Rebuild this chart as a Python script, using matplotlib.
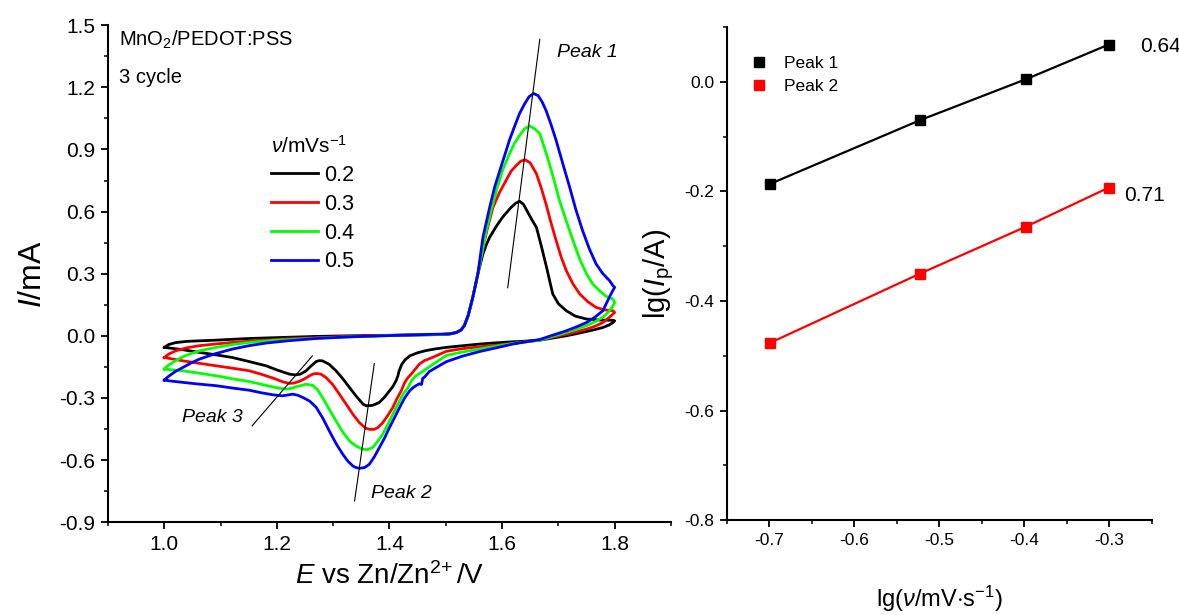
import matplotlib
matplotlib.use("Agg")
import matplotlib.pyplot as plt
from matplotlib.ticker import MultipleLocator

plt.rcParams['font.family'] = ['Liberation Sans', 'DejaVu Sans']
plt.rcParams['mathtext.fontset'] = 'custom'
plt.rcParams['mathtext.rm'] = 'Liberation Sans'
plt.rcParams['mathtext.it'] = 'Liberation Sans:italic'
plt.rcParams['axes.unicode_minus'] = False

# CV loops (E / V vs Zn/Zn2+, I / mA): forward scan 1.0 -> 1.8, then back to 1.0
scan_rates = ['0.2', '0.3', '0.4', '0.5']
colors = ['#000000', '#ff0000', '#00ff00', '#0000ff']

# shared foot of the anodic wave
rise_E = [1.507, 1.519, 1.527, 1.533, 1.540, 1.548, 1.557]
rise_I = [0.009, 0.016, 0.028, 0.049, 0.100, 0.186, 0.299]

E_02 = [1.000, 1.008, 1.020, 1.040, 1.092, 1.151, 1.210, 1.270, 1.329, 1.418, 1.490] + rise_E + [
    1.566, 1.572, 1.578, 1.590, 1.601, 1.616, 1.624, 1.631, 1.638, 1.645, 1.653, 1.661, 1.670,
    1.679, 1.685, 1.690, 1.700, 1.714, 1.730, 1.750, 1.775, 1.797, 1.800,
    1.797, 1.790, 1.779, 1.765, 1.750, 1.732, 1.714, 1.690, 1.667, 1.640, 1.619, 1.590, 1.560,
    1.530, 1.501, 1.480, 1.464, 1.450, 1.436, 1.428, 1.422, 1.417, 1.415, 1.412, 1.406, 1.400,
    1.391, 1.382, 1.370, 1.359, 1.353, 1.341, 1.329, 1.317, 1.305, 1.293, 1.281, 1.275, 1.270,
    1.261, 1.252, 1.242, 1.233, 1.222, 1.200, 1.181, 1.150, 1.121, 1.092, 1.062, 1.030, 1.000]
I_02 = [-0.056, -0.042, -0.033, -0.027, -0.021, -0.013, -0.008, -0.003, 0.000, 0.003, 0.006] + rise_I + [
    0.395, 0.440, 0.476, 0.530, 0.573, 0.620, 0.640, 0.650, 0.635, 0.600, 0.560, 0.524, 0.430,
    0.331, 0.260, 0.202, 0.155, 0.121, 0.095, 0.081, 0.076, 0.075, 0.072,
    0.064, 0.052, 0.040, 0.030, 0.021, 0.010, 0.000, -0.011, -0.021, -0.026, -0.029, -0.034, -0.040,
    -0.048, -0.056, -0.064, -0.072, -0.082, -0.097, -0.115, -0.137, -0.170, -0.193, -0.215, -0.245, -0.266,
    -0.297, -0.322, -0.336, -0.338, -0.330, -0.292, -0.250, -0.207, -0.169, -0.138, -0.121, -0.120, -0.124,
    -0.145, -0.169, -0.185, -0.189, -0.185, -0.165, -0.145, -0.124, -0.105, -0.092, -0.080, -0.066, -0.056]

E_03 = [1.000, 1.008, 1.021, 1.040, 1.062, 1.090, 1.121, 1.160, 1.210, 1.270, 1.329, 1.418, 1.490] + rise_E + [
    1.566, 1.575, 1.584, 1.595, 1.607, 1.616, 1.625, 1.633, 1.641, 1.650, 1.661, 1.670, 1.678,
    1.687, 1.696, 1.705, 1.714, 1.726, 1.738, 1.752, 1.767, 1.782, 1.797, 1.800,
    1.797, 1.790, 1.779, 1.765, 1.750, 1.732, 1.714, 1.690, 1.667, 1.640, 1.619, 1.590, 1.560,
    1.530, 1.501, 1.476, 1.462, 1.453, 1.441, 1.432, 1.427, 1.421, 1.413, 1.406, 1.397, 1.388,
    1.380, 1.373, 1.365, 1.358, 1.346, 1.335, 1.323, 1.311, 1.299, 1.287, 1.278, 1.270, 1.264,
    1.258, 1.249, 1.240, 1.231, 1.222, 1.210, 1.198, 1.175, 1.151, 1.120, 1.092, 1.060, 1.033, 1.000]
I_03 = [-0.105, -0.088, -0.072, -0.058, -0.048, -0.040, -0.032, -0.024, -0.016, -0.009, -0.003, 0.003, 0.006] + rise_I + [
    0.427, 0.530, 0.621, 0.690, 0.750, 0.795, 0.822, 0.843, 0.850, 0.835, 0.783, 0.710, 0.637,
    0.545, 0.460, 0.380, 0.315, 0.250, 0.202, 0.165, 0.137, 0.125, 0.121, 0.113,
    0.105, 0.088, 0.064, 0.046, 0.032, 0.019, 0.008, -0.007, -0.021, -0.030, -0.037, -0.045, -0.053,
    -0.062, -0.075, -0.105, -0.120, -0.137, -0.177, -0.205, -0.226, -0.265, -0.305, -0.346, -0.385, -0.420,
    -0.442, -0.452, -0.452, -0.447, -0.418, -0.379, -0.330, -0.282, -0.235, -0.201, -0.185, -0.182, -0.185,
    -0.193, -0.208, -0.220, -0.228, -0.230, -0.222, -0.209, -0.188, -0.169, -0.156, -0.145, -0.132, -0.121, -0.105]

E_04 = [1.000, 1.006, 1.015, 1.028, 1.044, 1.065, 1.092, 1.120, 1.151, 1.190, 1.240, 1.300, 1.359,
        1.418, 1.490] + rise_E + [
    1.565, 1.572, 1.581, 1.590, 1.601, 1.613, 1.622, 1.631, 1.640, 1.649, 1.658, 1.667, 1.675,
    1.684, 1.693, 1.702, 1.714, 1.726, 1.738, 1.750, 1.761, 1.773, 1.785, 1.797, 1.800,
    1.797, 1.790, 1.779, 1.765, 1.750, 1.732, 1.714, 1.690, 1.667, 1.640, 1.619, 1.590, 1.560,
    1.530, 1.501, 1.476, 1.460, 1.447, 1.439, 1.433, 1.424, 1.415, 1.406, 1.397, 1.388, 1.379,
    1.370, 1.361, 1.353, 1.341, 1.329, 1.317, 1.305, 1.293, 1.281, 1.272, 1.264, 1.252, 1.243,
    1.234, 1.225, 1.216, 1.198, 1.175, 1.151, 1.120, 1.092, 1.060, 1.033, 1.000]
I_04 = [-0.161, -0.145, -0.129, -0.108, -0.089, -0.071, -0.056, -0.043, -0.032, -0.023, -0.016, -0.008, -0.003,
        0.003, 0.006] + rise_I + [
    0.410, 0.508, 0.610, 0.702, 0.800, 0.879, 0.930, 0.967, 1.000, 1.013, 1.000, 0.976, 0.910,
    0.831, 0.745, 0.653, 0.555, 0.460, 0.370, 0.299, 0.250, 0.218, 0.190, 0.178, 0.160,
    0.145, 0.118, 0.089, 0.068, 0.049, 0.032, 0.016, -0.003, -0.021, -0.030, -0.037, -0.050, -0.064,
    -0.078, -0.095, -0.140, -0.170, -0.193, -0.217, -0.250, -0.282, -0.330, -0.378, -0.428, -0.475, -0.510,
    -0.540, -0.550, -0.548, -0.533, -0.508, -0.465, -0.411, -0.355, -0.298, -0.260, -0.240, -0.234, -0.240,
    -0.246, -0.254, -0.258, -0.250, -0.236, -0.221, -0.207, -0.193, -0.180, -0.169, -0.161]

E_05 = [1.000, 1.004, 1.009, 1.020, 1.033, 1.047, 1.062, 1.090, 1.121, 1.150, 1.181, 1.220, 1.270,
        1.330, 1.388, 1.450, 1.490] + rise_E + [
    1.566, 1.578, 1.587, 1.596, 1.605, 1.613, 1.622, 1.631, 1.640, 1.648, 1.656, 1.664, 1.671,
    1.678, 1.687, 1.696, 1.708, 1.720, 1.731, 1.743, 1.755, 1.767, 1.779, 1.791, 1.797, 1.800,
    1.797, 1.792, 1.785, 1.779, 1.765, 1.750, 1.732, 1.714, 1.690, 1.667, 1.640, 1.619, 1.590,
    1.560, 1.530, 1.501, 1.485, 1.471, 1.462, 1.459, 1.457, 1.453, 1.447, 1.442, 1.436, 1.427,
    1.418, 1.409, 1.400, 1.391, 1.382, 1.373, 1.364, 1.356, 1.347, 1.340, 1.335, 1.326, 1.317,
    1.305, 1.293, 1.282, 1.270, 1.258, 1.246, 1.237, 1.228, 1.219, 1.210, 1.193, 1.172, 1.151,
    1.120, 1.092, 1.060, 1.033, 1.010, 1.000]
I_05 = [-0.214, -0.204, -0.193, -0.172, -0.153, -0.132, -0.113, -0.087, -0.064, -0.048, -0.035, -0.024, -0.013,
        -0.005, 0.000, 0.005, 0.008] + rise_I + [
    0.476, 0.621, 0.720, 0.798, 0.875, 0.944, 1.010, 1.073, 1.120, 1.155, 1.170, 1.160, 1.130,
    1.089, 1.020, 0.944, 0.830, 0.718, 0.610, 0.508, 0.420, 0.347, 0.300, 0.266, 0.242, 0.234,
    0.220, 0.194, 0.155, 0.121, 0.090, 0.064, 0.043, 0.024, 0.003, -0.018, -0.030, -0.040, -0.058,
    -0.076, -0.098, -0.125, -0.150, -0.172, -0.200, -0.205, -0.235, -0.232, -0.241, -0.250, -0.265, -0.300,
    -0.346, -0.395, -0.443, -0.495, -0.540, -0.585, -0.621, -0.636, -0.640, -0.636, -0.629, -0.605, -0.572,
    -0.520, -0.459, -0.400, -0.346, -0.315, -0.298, -0.287, -0.282, -0.286, -0.290, -0.285, -0.275, -0.263,
    -0.252, -0.241, -0.233, -0.225, -0.218, -0.214]

cv_E = [E_02, E_03, E_04, E_05]
cv_I = [I_02, I_03, I_04, I_05]

# guide lines through the peak positions
peak1_E = [1.610, 1.667]
peak1_I = [0.232, 1.432]
peak2_E = [1.338, 1.373]
peak2_I = [-0.798, -0.134]
peak3_E = [1.156, 1.263]
peak3_I = [-0.435, -0.097]

# log peak current vs log scan rate
lg_v = [-0.699, -0.523, -0.398, -0.301]
lg_ip1 = [-0.186, -0.070, 0.005, 0.068]
lg_ip2 = [-0.476, -0.350, -0.264, -0.193]
slope1 = '0.64'
slope2 = '0.71'

fig = plt.figure(figsize=(11.79, 6.15), dpi=100)
ax1 = fig.add_axes([0.0916, 0.151, 0.4775, 0.808])
ax2 = fig.add_axes([0.6166, 0.154, 0.3605, 0.802])

for E, I, c, lab in zip(cv_E, cv_I, colors, scan_rates):
    ax1.plot(E, I, color=c, lw=2.0, label=lab, solid_joinstyle='round')

ax1.plot(peak1_E, peak1_I, color='black', lw=0.8)
ax1.plot(peak2_E, peak2_I, color='black', lw=0.8)
ax1.plot(peak3_E, peak3_I, color='black', lw=0.8)
ax1.text(1.697, 1.37, 'Peak 1', fontsize=14, style='italic', va='center')
ax1.text(1.368, -0.764, 'Peak 2', fontsize=14, style='italic', va='center')
ax1.text(1.139, -0.397, 'Peak 3', fontsize=14, style='italic', va='center', ha='right')
ax1.text(0.92, 1.427, 'MnO$_2$/PEDOT:PSS', fontsize=14.5, va='center')
ax1.text(0.92, 1.248, '3 cycle', fontsize=14.5, va='center')

ax1.legend(loc='upper left', bbox_to_anchor=(0.27, 0.80), frameon=False,
           title=r'$\mathit{\nu}$/mVs$^{-1}$', fontsize=15.5, title_fontsize=15,
           handlelength=2.2, handletextpad=0.3, labelspacing=0.36, borderpad=0,
           alignment='left')

ax1.set_xlim(0.9, 1.9)
ax1.set_ylim(-0.9, 1.5)
ax1.xaxis.set_major_locator(MultipleLocator(0.2))
ax1.xaxis.set_minor_locator(MultipleLocator(0.1))
ax1.yaxis.set_major_locator(MultipleLocator(0.3))
ax1.yaxis.set_minor_locator(MultipleLocator(0.15))
ax1.set_xlabel(r'$\mathit{E}$ vs Zn/Zn$^{2\!+}$/V', fontsize=20, labelpad=6)
ax1.set_ylabel(r'$\mathit{I}$/mA', fontsize=23, labelpad=8)

ax2.plot(lg_v, lg_ip1, color='black', lw=1.6, marker='s', ms=7, label='Peak 1')
ax2.plot(lg_v, lg_ip2, color='red', lw=1.6, marker='s', ms=7, label='Peak 2')
ax2.text(-0.2635, 0.064, slope1, fontsize=15, va='center')
ax2.text(-0.2824, -0.208, slope2, fontsize=15, va='center')
h, l = ax2.get_legend_handles_labels()
ax2.legend(h, l, loc='upper left', bbox_to_anchor=(0.035, 0.96), frameon=False, fontsize=12.5,
           handlelength=1.0, handletextpad=0.9, labelspacing=0.5, borderpad=0)
for hl in ax2.get_legend().get_lines():
    hl.set_linestyle('none')

ax2.set_xlim(-0.75, -0.25)
ax2.set_ylim(-0.8, 0.1)
ax2.xaxis.set_major_locator(MultipleLocator(0.1))
ax2.xaxis.set_minor_locator(MultipleLocator(0.05))
ax2.yaxis.set_major_locator(MultipleLocator(0.2))
ax2.yaxis.set_minor_locator(MultipleLocator(0.1))
ax2.set_xlabel(r'lg($\mathit{\nu}$/mV$\cdot$s$^{-1}$)', fontsize=17, labelpad=26)
ax2.set_ylabel(r'lg($\mathit{I}_\mathrm{p}$/A)', fontsize=21, labelpad=6)

for ax, fs in ((ax1, 15), (ax2, 12.5)):
    ax.spines['top'].set_visible(False)
    ax.spines['right'].set_visible(False)
    for s in ('left', 'bottom'):
        ax.spines[s].set_linewidth(1.5)
    ax.tick_params(which='major', direction='out', length=5, width=1.3, labelsize=fs, pad=4)
    ax.tick_params(which='minor', direction='out', length=3, width=1.1)

fig.savefig('out.png', dpi=100)
